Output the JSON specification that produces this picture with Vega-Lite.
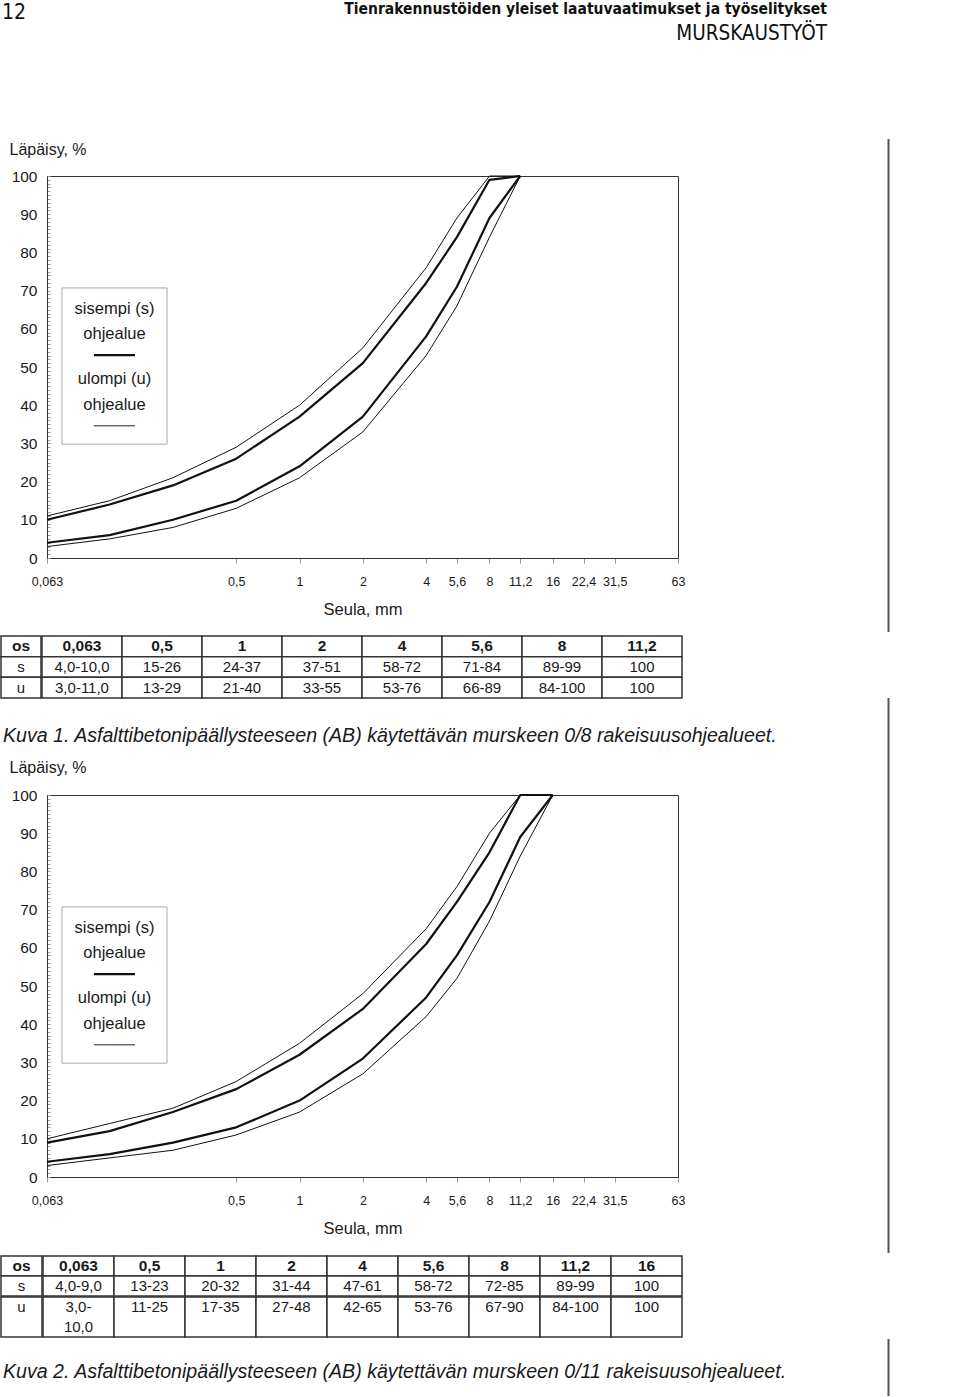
{
  "$schema": "https://vega.github.io/schema/vega-lite/v6.json",
  "padding": 0,
  "background": "white",
  "config": {
    "view": {"stroke": null},
    "font": "Liberation Sans",
    "concat": {"spacing": 0},
    "text": {"color": "#1a1a1a", "font": "Liberation Sans"}
  },
  "datasets": {
    "header": [{"page": "12", "title": "Tienrakennustöiden yleiset laatuvaatimukset ja työselitykset", "section": "MURSKAUSTYÖT"}],
    "cap1": [{"text": "Kuva 1. Asfalttibetonipäällysteeseen (AB) käytettävän murskeen  0/8 rakeisuusohjealueet."}],
    "cap2": [{"text": "Kuva 2. Asfalttibetonipäällysteeseen (AB) käytettävän murskeen 0/11 rakeisuusohjealueet."}],
    "c1": [
      {"curve": "s_min", "zone": "s", "sieve": 0.063, "pass": 4},
      {"curve": "s_min", "zone": "s", "sieve": 0.125, "pass": 6},
      {"curve": "s_min", "zone": "s", "sieve": 0.25, "pass": 10},
      {"curve": "s_min", "zone": "s", "sieve": 0.5, "pass": 15},
      {"curve": "s_min", "zone": "s", "sieve": 1, "pass": 24},
      {"curve": "s_min", "zone": "s", "sieve": 2, "pass": 37},
      {"curve": "s_min", "zone": "s", "sieve": 4, "pass": 58},
      {"curve": "s_min", "zone": "s", "sieve": 5.6, "pass": 71},
      {"curve": "s_min", "zone": "s", "sieve": 8, "pass": 89},
      {"curve": "s_min", "zone": "s", "sieve": 11.2, "pass": 100},
      {"curve": "s_max", "zone": "s", "sieve": 0.063, "pass": 10},
      {"curve": "s_max", "zone": "s", "sieve": 0.125, "pass": 14},
      {"curve": "s_max", "zone": "s", "sieve": 0.25, "pass": 19},
      {"curve": "s_max", "zone": "s", "sieve": 0.5, "pass": 26},
      {"curve": "s_max", "zone": "s", "sieve": 1, "pass": 37},
      {"curve": "s_max", "zone": "s", "sieve": 2, "pass": 51},
      {"curve": "s_max", "zone": "s", "sieve": 4, "pass": 72},
      {"curve": "s_max", "zone": "s", "sieve": 5.6, "pass": 84},
      {"curve": "s_max", "zone": "s", "sieve": 8, "pass": 99},
      {"curve": "s_max", "zone": "s", "sieve": 11.2, "pass": 100},
      {"curve": "u_min", "zone": "u", "sieve": 0.063, "pass": 3},
      {"curve": "u_min", "zone": "u", "sieve": 0.125, "pass": 5},
      {"curve": "u_min", "zone": "u", "sieve": 0.25, "pass": 8},
      {"curve": "u_min", "zone": "u", "sieve": 0.5, "pass": 13},
      {"curve": "u_min", "zone": "u", "sieve": 1, "pass": 21},
      {"curve": "u_min", "zone": "u", "sieve": 2, "pass": 33},
      {"curve": "u_min", "zone": "u", "sieve": 4, "pass": 53},
      {"curve": "u_min", "zone": "u", "sieve": 5.6, "pass": 66},
      {"curve": "u_min", "zone": "u", "sieve": 8, "pass": 84},
      {"curve": "u_min", "zone": "u", "sieve": 11.2, "pass": 100},
      {"curve": "u_max", "zone": "u", "sieve": 0.063, "pass": 11},
      {"curve": "u_max", "zone": "u", "sieve": 0.125, "pass": 15},
      {"curve": "u_max", "zone": "u", "sieve": 0.25, "pass": 21},
      {"curve": "u_max", "zone": "u", "sieve": 0.5, "pass": 29},
      {"curve": "u_max", "zone": "u", "sieve": 1, "pass": 40},
      {"curve": "u_max", "zone": "u", "sieve": 2, "pass": 55},
      {"curve": "u_max", "zone": "u", "sieve": 4, "pass": 76},
      {"curve": "u_max", "zone": "u", "sieve": 5.6, "pass": 89},
      {"curve": "u_max", "zone": "u", "sieve": 8, "pass": 100},
      {"curve": "u_max", "zone": "u", "sieve": 11.2, "pass": 100}
    ],
    "c2": [
      {"curve": "s_min", "zone": "s", "sieve": 0.063, "pass": 4},
      {"curve": "s_min", "zone": "s", "sieve": 0.125, "pass": 6},
      {"curve": "s_min", "zone": "s", "sieve": 0.25, "pass": 9},
      {"curve": "s_min", "zone": "s", "sieve": 0.5, "pass": 13},
      {"curve": "s_min", "zone": "s", "sieve": 1, "pass": 20},
      {"curve": "s_min", "zone": "s", "sieve": 2, "pass": 31},
      {"curve": "s_min", "zone": "s", "sieve": 4, "pass": 47},
      {"curve": "s_min", "zone": "s", "sieve": 5.6, "pass": 58},
      {"curve": "s_min", "zone": "s", "sieve": 8, "pass": 72},
      {"curve": "s_min", "zone": "s", "sieve": 11.2, "pass": 89},
      {"curve": "s_min", "zone": "s", "sieve": 16, "pass": 100},
      {"curve": "s_max", "zone": "s", "sieve": 0.063, "pass": 9},
      {"curve": "s_max", "zone": "s", "sieve": 0.125, "pass": 12},
      {"curve": "s_max", "zone": "s", "sieve": 0.25, "pass": 17},
      {"curve": "s_max", "zone": "s", "sieve": 0.5, "pass": 23},
      {"curve": "s_max", "zone": "s", "sieve": 1, "pass": 32},
      {"curve": "s_max", "zone": "s", "sieve": 2, "pass": 44},
      {"curve": "s_max", "zone": "s", "sieve": 4, "pass": 61},
      {"curve": "s_max", "zone": "s", "sieve": 5.6, "pass": 72},
      {"curve": "s_max", "zone": "s", "sieve": 8, "pass": 85},
      {"curve": "s_max", "zone": "s", "sieve": 11.2, "pass": 100},
      {"curve": "s_max", "zone": "s", "sieve": 16, "pass": 100},
      {"curve": "u_min", "zone": "u", "sieve": 0.063, "pass": 3},
      {"curve": "u_min", "zone": "u", "sieve": 0.125, "pass": 5},
      {"curve": "u_min", "zone": "u", "sieve": 0.25, "pass": 7},
      {"curve": "u_min", "zone": "u", "sieve": 0.5, "pass": 11},
      {"curve": "u_min", "zone": "u", "sieve": 1, "pass": 17},
      {"curve": "u_min", "zone": "u", "sieve": 2, "pass": 27},
      {"curve": "u_min", "zone": "u", "sieve": 4, "pass": 42},
      {"curve": "u_min", "zone": "u", "sieve": 5.6, "pass": 52},
      {"curve": "u_min", "zone": "u", "sieve": 8, "pass": 67},
      {"curve": "u_min", "zone": "u", "sieve": 11.2, "pass": 84},
      {"curve": "u_min", "zone": "u", "sieve": 16, "pass": 100},
      {"curve": "u_max", "zone": "u", "sieve": 0.063, "pass": 10},
      {"curve": "u_max", "zone": "u", "sieve": 0.125, "pass": 14},
      {"curve": "u_max", "zone": "u", "sieve": 0.25, "pass": 18},
      {"curve": "u_max", "zone": "u", "sieve": 0.5, "pass": 25},
      {"curve": "u_max", "zone": "u", "sieve": 1, "pass": 35},
      {"curve": "u_max", "zone": "u", "sieve": 2, "pass": 48},
      {"curve": "u_max", "zone": "u", "sieve": 4, "pass": 65},
      {"curve": "u_max", "zone": "u", "sieve": 5.6, "pass": 76},
      {"curve": "u_max", "zone": "u", "sieve": 8, "pass": 90},
      {"curve": "u_max", "zone": "u", "sieve": 11.2, "pass": 100}
    ],
    "t1": [
      {"row": "h", "col": "c0", "text": "os"}, {"row": "h", "col": "c1", "text": "0,063"}, {"row": "h", "col": "c2", "text": "0,5"}, {"row": "h", "col": "c3", "text": "1"}, {"row": "h", "col": "c4", "text": "2"}, {"row": "h", "col": "c5", "text": "4"}, {"row": "h", "col": "c6", "text": "5,6"}, {"row": "h", "col": "c7", "text": "8"}, {"row": "h", "col": "c8", "text": "11,2"},
      {"row": "s", "col": "c0", "text": "s"}, {"row": "s", "col": "c1", "text": "4,0-10,0"}, {"row": "s", "col": "c2", "text": "15-26"}, {"row": "s", "col": "c3", "text": "24-37"}, {"row": "s", "col": "c4", "text": "37-51"}, {"row": "s", "col": "c5", "text": "58-72"}, {"row": "s", "col": "c6", "text": "71-84"}, {"row": "s", "col": "c7", "text": "89-99"}, {"row": "s", "col": "c8", "text": "100"},
      {"row": "u", "col": "c0", "text": "u"}, {"row": "u", "col": "c1", "text": "3,0-11,0"}, {"row": "u", "col": "c2", "text": "13-29"}, {"row": "u", "col": "c3", "text": "21-40"}, {"row": "u", "col": "c4", "text": "33-55"}, {"row": "u", "col": "c5", "text": "53-76"}, {"row": "u", "col": "c6", "text": "66-89"}, {"row": "u", "col": "c7", "text": "84-100"}, {"row": "u", "col": "c8", "text": "100"}
    ],
    "t2": [
      {"row": "h", "col": "c0", "text": "os"}, {"row": "h", "col": "c1", "text": "0,063"}, {"row": "h", "col": "c2", "text": "0,5"}, {"row": "h", "col": "c3", "text": "1"}, {"row": "h", "col": "c4", "text": "2"}, {"row": "h", "col": "c5", "text": "4"}, {"row": "h", "col": "c6", "text": "5,6"}, {"row": "h", "col": "c7", "text": "8"}, {"row": "h", "col": "c8", "text": "11,2"}, {"row": "h", "col": "c9", "text": "16"},
      {"row": "s", "col": "c0", "text": "s"}, {"row": "s", "col": "c1", "text": "4,0-9,0"}, {"row": "s", "col": "c2", "text": "13-23"}, {"row": "s", "col": "c3", "text": "20-32"}, {"row": "s", "col": "c4", "text": "31-44"}, {"row": "s", "col": "c5", "text": "47-61"}, {"row": "s", "col": "c6", "text": "58-72"}, {"row": "s", "col": "c7", "text": "72-85"}, {"row": "s", "col": "c8", "text": "89-99"}, {"row": "s", "col": "c9", "text": "100"},
      {"row": "u", "col": "c0", "text": "u"}, {"row": "u", "col": "c1", "text": "3,0-\n10,0"}, {"row": "u", "col": "c2", "text": "11-25"}, {"row": "u", "col": "c3", "text": "17-35"}, {"row": "u", "col": "c4", "text": "27-48"}, {"row": "u", "col": "c5", "text": "42-65"}, {"row": "u", "col": "c6", "text": "53-76"}, {"row": "u", "col": "c7", "text": "67-90"}, {"row": "u", "col": "c8", "text": "84-100"}, {"row": "u", "col": "c9", "text": "100"}
    ]
  },
  "spacing": 60,
  "hconcat": [
    {
      "spacing": 0,
      "vconcat": [
        {
          "width": 826, "height": 60,
          "data": {"name": "header"},
          "layer": [
            {"mark": {"type": "text", "align": "left", "baseline": "middle", "font": "'DejaVu Sans Condensed', 'Liberation Sans', sans-serif", "fontSize": 21, "color": "#111", "dx": 1},
             "encoding": {"text": {"field": "page"}, "x": {"datum": 0, "type": "quantitative", "scale": {"domain": [0, 1]}, "axis": null}, "y": {"datum": 0.22, "type": "quantitative", "scale": {"domain": [0, 1], "reverse": true}, "axis": null}}},
            {"mark": {"type": "text", "align": "right", "baseline": "middle", "font": "'DejaVu Sans Condensed', 'Liberation Sans', sans-serif", "fontSize": 15.5, "fontWeight": "bold", "color": "#111"},
             "encoding": {"text": {"field": "title"}, "x": {"datum": 1, "type": "quantitative"}, "y": {"datum": 0.15, "type": "quantitative"}}},
            {"mark": {"type": "text", "align": "right", "baseline": "middle", "font": "'DejaVu Sans Condensed', 'Liberation Sans', sans-serif", "fontSize": 20.5, "color": "#111"},
             "encoding": {"text": {"field": "section"}, "x": {"datum": 1, "type": "quantitative"}, "y": {"datum": 0.565, "type": "quantitative"}}}
          ]
        },
        {
          "spacing": 0, "bounds": "flush",
          "hconcat": [
            {"width": 46, "height": 382, "data": {"values": []}, "mark": "point"},
            {
              "width": 631, "height": 382,
              "view": {"stroke": "#333", "strokeWidth": 1},
              "layer": [
                {"data": {"values": [{}]}, "mark": {"type": "rect", "opacity": 0},
                 "encoding": {"x": {"datum": 0.03807, "type": "quantitative", "scale": {"type": "log", "domain": [0.063, 63], "nice": false}}, "x2": {"datum": 63}, "y": {"datum": 130.1, "type": "quantitative", "scale": {"domain": [0, 100], "nice": false}}, "y2": {"datum": -19.9}}},
                {
                  "data": {"name": "c1"},
                  "mark": {"type": "line", "color": "#111", "strokeJoin": "round"},
                  "encoding": {
                    "x": {"field": "sieve", "type": "quantitative", "scale": {"type": "log", "domain": [0.063, 63], "nice": false},
                      "axis": {"values": [0.063, 0.5, 1, 2, 4, 5.6, 8, 11.2, 16, 22.4, 31.5, 63], "labelExpr": "replace(datum.value + '', '.', ',')", "title": "Seula, mm", "titleFontSize": 16.5, "titleFontWeight": "normal", "titleY": 51, "titleBaseline": "middle", "titleColor": "#1a1a1a", "labelFontSize": 12.5, "labelColor": "#1a1a1a", "labelPadding": 12.5, "tickSize": 5, "tickColor": "#999", "domainColor": "#333", "gridColor": "#a0a0a0", "labelFlush": false, "labelOverlap": false, "labelBound": false}},
                    "y": {"field": "pass", "type": "quantitative", "scale": {"domain": [0, 100], "nice": false},
                      "axis": {"tickCount": 100, "labelExpr": "datum.value % 10 === 0 ? datum.label : ''", "gridOpacity": {"condition": {"test": "datum.value % 10 === 0", "value": 1}, "value": 0}, "gridColor": "#a0a0a0", "tickSize": -3, "tickColor": "#999", "domainColor": "#333", "labelFontSize": 15.5, "labelPadding": 13, "labelColor": "#1a1a1a", "labelOverlap": false, "labelFlush": false, "title": "Läpäisy, %", "titleAngle": 0, "titleAlign": "left", "titleBaseline": "middle", "titleX": -38, "titleY": -27, "titleFontSize": 16, "titleFontWeight": "normal", "titleColor": "#1a1a1a"}},
                    "detail": {"field": "curve"},
                    "strokeWidth": {"field": "zone", "type": "nominal", "scale": {"domain": ["s", "u"], "range": [2.2, 1]}, "legend": null}
                  }
                },
                {"data": {"values": [{}]}, "mark": {"type": "rect", "fill": "white", "stroke": "#aaa", "strokeWidth": 1},
                 "encoding": {"x": {"datum": 0.0742, "type": "quantitative"}, "x2": {"datum": 0.2344}, "y": {"datum": 70.7, "type": "quantitative"}, "y2": {"datum": 29.8}}},
                {"data": {"values": [{}]}, "mark": {"type": "text", "text": "sisempi (s)", "fontSize": 16.5, "align": "center", "baseline": "middle"},
                 "encoding": {"x": {"datum": 0.1319, "type": "quantitative"}, "y": {"datum": 65.2, "type": "quantitative"}}},
                {"data": {"values": [{}]}, "mark": {"type": "text", "text": "ohjealue", "fontSize": 16.5, "align": "center", "baseline": "middle"},
                 "encoding": {"x": {"datum": 0.1319, "type": "quantitative"}, "y": {"datum": 58.6, "type": "quantitative"}}},
                {"data": {"values": [{}]}, "mark": {"type": "rule", "color": "#111", "strokeWidth": 2.2},
                 "encoding": {"x": {"datum": 0.1053, "type": "quantitative"}, "x2": {"datum": 0.1651}, "y": {"datum": 53.1, "type": "quantitative"}}},
                {"data": {"values": [{}]}, "mark": {"type": "text", "text": "ulompi (u)", "fontSize": 16.5, "align": "center", "baseline": "middle"},
                 "encoding": {"x": {"datum": 0.1319, "type": "quantitative"}, "y": {"datum": 46.9, "type": "quantitative"}}},
                {"data": {"values": [{}]}, "mark": {"type": "text", "text": "ohjealue", "fontSize": 16.5, "align": "center", "baseline": "middle"},
                 "encoding": {"x": {"datum": 0.1319, "type": "quantitative"}, "y": {"datum": 40.05, "type": "quantitative"}}},
                {"data": {"values": [{}]}, "mark": {"type": "rule", "color": "#222", "strokeWidth": 1},
                 "encoding": {"x": {"datum": 0.1053, "type": "quantitative"}, "x2": {"datum": 0.1651}, "y": {"datum": 34.6, "type": "quantitative"}}}
              ]
            }
          ]
        },
        {
          "spacing": -1.5,
          "hconcat": [
            {
              "width": 40, "height": 62,
              "data": {"name": "t1"}, "transform": [{"filter": "datum.col === 'c0'"}],
              "encoding": {"x": {"field": "col", "type": "nominal", "axis": null, "scale": {"domain": ["c0"], "paddingInner": 0, "paddingOuter": 0}}, "y": {"field": "row", "type": "nominal", "axis": null, "scale": {"domain": ["h", "s", "u"], "paddingInner": 0, "paddingOuter": 0}}},
              "layer": [
                {"mark": {"type": "rect", "fill": "white", "stroke": "#333", "strokeWidth": 1.5}},
                {"transform": [{"filter": "datum.row === 'h'"}], "mark": {"type": "text", "fontSize": 15.5, "fontWeight": "bold"}, "encoding": {"text": {"field": "text"}}},
                {"transform": [{"filter": "datum.row !== 'h'"}], "mark": {"type": "text", "fontSize": 15}, "encoding": {"text": {"field": "text"}}}
              ]
            },
            {
              "width": 640, "height": 62,
              "data": {"name": "t1"}, "transform": [{"filter": "datum.col !== 'c0'"}],
              "encoding": {"x": {"field": "col", "type": "nominal", "axis": null, "scale": {"domain": ["c1", "c2", "c3", "c4", "c5", "c6", "c7", "c8"], "paddingInner": 0, "paddingOuter": 0}}, "y": {"field": "row", "type": "nominal", "axis": null, "scale": {"domain": ["h", "s", "u"], "paddingInner": 0, "paddingOuter": 0}}},
              "layer": [
                {"mark": {"type": "rect", "fill": "white", "stroke": "#333", "strokeWidth": 1.5}},
                {"transform": [{"filter": "datum.row === 'h'"}], "mark": {"type": "text", "fontSize": 15.5, "fontWeight": "bold"}, "encoding": {"text": {"field": "text"}}},
                {"transform": [{"filter": "datum.row !== 'h'"}], "mark": {"type": "text", "fontSize": 15}, "encoding": {"text": {"field": "text"}}}
              ]
            }
          ]
        },
        {
          "width": 826, "height": 56,
          "data": {"name": "cap1"},
          "mark": {"type": "text", "align": "left", "baseline": "middle", "fontSize": 19.6, "fontStyle": "italic", "dx": 2},
          "encoding": {"text": {"field": "text"}, "x": {"datum": 0, "type": "quantitative", "scale": {"domain": [0, 1]}, "axis": null}, "y": {"datum": 0.66, "type": "quantitative", "scale": {"domain": [0, 1], "reverse": true}, "axis": null}}
        },
        {
          "spacing": 0, "bounds": "flush",
          "hconcat": [
            {"width": 46, "height": 382, "data": {"values": []}, "mark": "point"},
            {
              "width": 631, "height": 382,
              "view": {"stroke": "#333", "strokeWidth": 1},
              "layer": [
                {"data": {"values": [{}]}, "mark": {"type": "rect", "opacity": 0},
                 "encoding": {"x": {"datum": 0.03807, "type": "quantitative", "scale": {"type": "log", "domain": [0.063, 63], "nice": false}}, "x2": {"datum": 63}, "y": {"datum": 110.08, "type": "quantitative", "scale": {"domain": [0, 100], "nice": false}}, "y2": {"datum": -20.16}}},
                {
                  "data": {"name": "c2"},
                  "mark": {"type": "line", "color": "#111", "strokeJoin": "round"},
                  "encoding": {
                    "x": {"field": "sieve", "type": "quantitative", "scale": {"type": "log", "domain": [0.063, 63], "nice": false},
                      "axis": {"values": [0.063, 0.5, 1, 2, 4, 5.6, 8, 11.2, 16, 22.4, 31.5, 63], "labelExpr": "replace(datum.value + '', '.', ',')", "title": "Seula, mm", "titleFontSize": 16.5, "titleFontWeight": "normal", "titleY": 51, "titleBaseline": "middle", "titleColor": "#1a1a1a", "labelFontSize": 12.5, "labelColor": "#1a1a1a", "labelPadding": 12.5, "tickSize": 5, "tickColor": "#999", "domainColor": "#333", "gridColor": "#a0a0a0", "labelFlush": false, "labelOverlap": false, "labelBound": false}},
                    "y": {"field": "pass", "type": "quantitative", "scale": {"domain": [0, 100], "nice": false},
                      "axis": {"tickCount": 100, "labelExpr": "datum.value % 10 === 0 ? datum.label : ''", "gridOpacity": {"condition": {"test": "datum.value % 10 === 0", "value": 1}, "value": 0}, "gridColor": "#a0a0a0", "tickSize": -3, "tickColor": "#999", "domainColor": "#333", "labelFontSize": 15.5, "labelPadding": 13, "labelColor": "#1a1a1a", "labelOverlap": false, "labelFlush": false, "title": "Läpäisy, %", "titleAngle": 0, "titleAlign": "left", "titleBaseline": "middle", "titleX": -38, "titleY": -28, "titleFontSize": 16, "titleFontWeight": "normal", "titleColor": "#1a1a1a"}},
                    "detail": {"field": "curve"},
                    "strokeWidth": {"field": "zone", "type": "nominal", "scale": {"domain": ["s", "u"], "range": [2.2, 1]}, "legend": null}
                  }
                },
                {"data": {"values": [{}]}, "mark": {"type": "rect", "fill": "white", "stroke": "#aaa", "strokeWidth": 1},
                 "encoding": {"x": {"datum": 0.0742, "type": "quantitative"}, "x2": {"datum": 0.2344}, "y": {"datum": 70.7, "type": "quantitative"}, "y2": {"datum": 29.8}}},
                {"data": {"values": [{}]}, "mark": {"type": "text", "text": "sisempi (s)", "fontSize": 16.5, "align": "center", "baseline": "middle"},
                 "encoding": {"x": {"datum": 0.1319, "type": "quantitative"}, "y": {"datum": 65.2, "type": "quantitative"}}},
                {"data": {"values": [{}]}, "mark": {"type": "text", "text": "ohjealue", "fontSize": 16.5, "align": "center", "baseline": "middle"},
                 "encoding": {"x": {"datum": 0.1319, "type": "quantitative"}, "y": {"datum": 58.6, "type": "quantitative"}}},
                {"data": {"values": [{}]}, "mark": {"type": "rule", "color": "#111", "strokeWidth": 2.2},
                 "encoding": {"x": {"datum": 0.1053, "type": "quantitative"}, "x2": {"datum": 0.1651}, "y": {"datum": 53.1, "type": "quantitative"}}},
                {"data": {"values": [{}]}, "mark": {"type": "text", "text": "ulompi (u)", "fontSize": 16.5, "align": "center", "baseline": "middle"},
                 "encoding": {"x": {"datum": 0.1319, "type": "quantitative"}, "y": {"datum": 46.9, "type": "quantitative"}}},
                {"data": {"values": [{}]}, "mark": {"type": "text", "text": "ohjealue", "fontSize": 16.5, "align": "center", "baseline": "middle"},
                 "encoding": {"x": {"datum": 0.1319, "type": "quantitative"}, "y": {"datum": 40.05, "type": "quantitative"}}},
                {"data": {"values": [{}]}, "mark": {"type": "rule", "color": "#222", "strokeWidth": 1},
                 "encoding": {"x": {"datum": 0.1053, "type": "quantitative"}, "x2": {"datum": 0.1651}, "y": {"datum": 34.6, "type": "quantitative"}}}
              ]
            }
          ]
        },
        {
          "spacing": -1.5,
          "vconcat": [
            {
              "spacing": -1.5,
              "hconcat": [
                {
                  "width": 41, "height": 40,
                  "data": {"name": "t2"}, "transform": [{"filter": "datum.col === 'c0' && datum.row !== 'u'"}],
                  "encoding": {"x": {"field": "col", "type": "nominal", "axis": null, "scale": {"domain": ["c0"], "paddingInner": 0, "paddingOuter": 0}}, "y": {"field": "row", "type": "nominal", "axis": null, "scale": {"domain": ["h", "s"], "paddingInner": 0, "paddingOuter": 0}}},
                  "layer": [
                    {"mark": {"type": "rect", "fill": "white", "stroke": "#333", "strokeWidth": 1.5}},
                    {"transform": [{"filter": "datum.row === 'h'"}], "mark": {"type": "text", "fontSize": 15.5, "fontWeight": "bold"}, "encoding": {"text": {"field": "text"}}},
                    {"transform": [{"filter": "datum.row !== 'h'"}], "mark": {"type": "text", "fontSize": 15}, "encoding": {"text": {"field": "text"}}}
                  ]
                },
                {
                  "width": 639, "height": 40,
                  "data": {"name": "t2"}, "transform": [{"filter": "datum.col !== 'c0' && datum.row !== 'u'"}],
                  "encoding": {"x": {"field": "col", "type": "nominal", "axis": null, "scale": {"domain": ["c1", "c2", "c3", "c4", "c5", "c6", "c7", "c8", "c9"], "paddingInner": 0, "paddingOuter": 0}}, "y": {"field": "row", "type": "nominal", "axis": null, "scale": {"domain": ["h", "s"], "paddingInner": 0, "paddingOuter": 0}}},
                  "layer": [
                    {"mark": {"type": "rect", "fill": "white", "stroke": "#333", "strokeWidth": 1.5}},
                    {"transform": [{"filter": "datum.row === 'h'"}], "mark": {"type": "text", "fontSize": 15.5, "fontWeight": "bold"}, "encoding": {"text": {"field": "text"}}},
                    {"transform": [{"filter": "datum.row !== 'h'"}], "mark": {"type": "text", "fontSize": 15}, "encoding": {"text": {"field": "text"}}}
                  ]
                }
              ]
            },
            {
              "spacing": -1.5,
              "hconcat": [
                {
                  "width": 41, "height": 40,
                  "data": {"name": "t2"}, "transform": [{"filter": "datum.col === 'c0' && datum.row === 'u'"}],
                  "encoding": {"x": {"field": "col", "type": "nominal", "axis": null, "scale": {"domain": ["c0"], "paddingInner": 0, "paddingOuter": 0}}, "y": {"field": "row", "type": "nominal", "axis": null, "scale": {"domain": ["u"], "paddingInner": 0, "paddingOuter": 0}}},
                  "layer": [
                    {"mark": {"type": "rect", "fill": "white", "stroke": "#333", "strokeWidth": 1.5}},
                    {"mark": {"type": "text", "fontSize": 15, "baseline": "top", "dy": 3, "lineBreak": "\n", "lineHeight": 20}, "encoding": {"text": {"field": "text"}, "y": {"field": "row", "type": "nominal", "bandPosition": 0}}}
                  ]
                },
                {
                  "width": 639, "height": 40,
                  "data": {"name": "t2"}, "transform": [{"filter": "datum.col !== 'c0' && datum.row === 'u'"}],
                  "encoding": {"x": {"field": "col", "type": "nominal", "axis": null, "scale": {"domain": ["c1", "c2", "c3", "c4", "c5", "c6", "c7", "c8", "c9"], "paddingInner": 0, "paddingOuter": 0}}, "y": {"field": "row", "type": "nominal", "axis": null, "scale": {"domain": ["u"], "paddingInner": 0, "paddingOuter": 0}}},
                  "layer": [
                    {"mark": {"type": "rect", "fill": "white", "stroke": "#333", "strokeWidth": 1.5}},
                    {"mark": {"type": "text", "fontSize": 15, "baseline": "top", "dy": 3, "lineBreak": "\n", "lineHeight": 20}, "encoding": {"text": {"field": "text"}, "y": {"field": "row", "type": "nominal", "bandPosition": 0}}}
                  ]
                }
              ]
            }
          ]
        },
        {
          "width": 826, "height": 62,
          "data": {"name": "cap2"},
          "mark": {"type": "text", "align": "left", "baseline": "middle", "fontSize": 19.6, "fontStyle": "italic", "dx": 2},
          "encoding": {"text": {"field": "text"}, "x": {"datum": 0, "type": "quantitative", "scale": {"domain": [0, 1]}, "axis": null}, "y": {"datum": 0.55, "type": "quantitative", "scale": {"domain": [0, 1], "reverse": true}, "axis": null}}
        }
      ]
    },
    {
      "spacing": 0,
      "vconcat": [
        {"width": 3, "height": 138, "data": {"values": []}, "mark": "point"},
        {"width": 3, "height": 493, "data": {"values": [{}]}, "mark": {"type": "rule", "color": "#555", "strokeWidth": 2}, "encoding": {"x": {"datum": 0.5, "type": "quantitative", "scale": {"domain": [0, 1]}, "axis": null}}},
        {"width": 3, "height": 64, "data": {"values": []}, "mark": "point"},
        {"width": 3, "height": 555, "data": {"values": [{}]}, "mark": {"type": "rule", "color": "#555", "strokeWidth": 2}, "encoding": {"x": {"datum": 0.5, "type": "quantitative", "scale": {"domain": [0, 1]}, "axis": null}}},
        {"width": 3, "height": 84, "data": {"values": []}, "mark": "point"},
        {"width": 3, "height": 57, "data": {"values": [{}]}, "mark": {"type": "rule", "color": "#555", "strokeWidth": 2}, "encoding": {"x": {"datum": 0.5, "type": "quantitative", "scale": {"domain": [0, 1]}, "axis": null}}}
      ]
    }
  ]
}
